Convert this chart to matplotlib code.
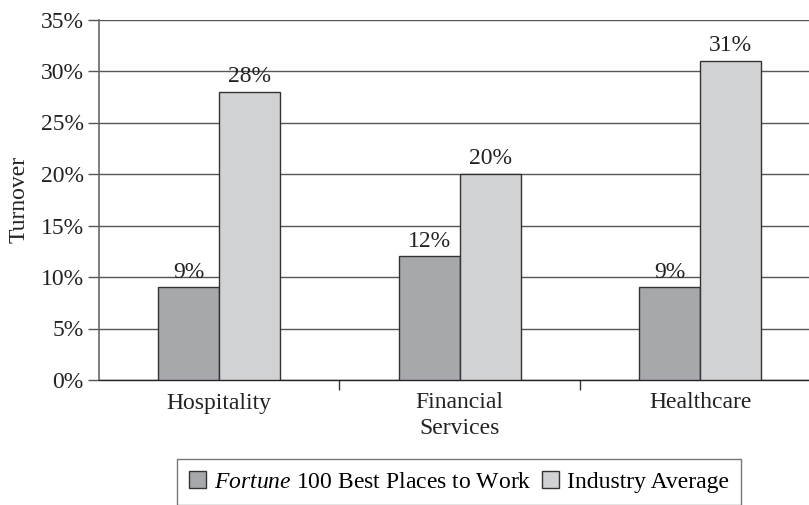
import numpy as np
import matplotlib
matplotlib.use("Agg")
import matplotlib.pyplot as plt
from matplotlib.ticker import FuncFormatter, FixedLocator

plt.rcParams["font.family"] = ["Liberation Serif", "DejaVu Serif"]
plt.rcParams["mathtext.fontset"] = "custom"
plt.rcParams["mathtext.rm"] = "Liberation Serif"
plt.rcParams["mathtext.it"] = "Liberation Serif:italic"

categories = ["Hospitality", "Financial\nServices", "Healthcare"]
fortune = [9, 12, 9]
industry = [28, 20, 31]
series_names = [r"$\mathit{Fortune}$ 100 Best Places to Work", "Industry Average"]

fs = 17
fig = plt.figure(figsize=(8.09, 5.05), dpi=100)
ax = fig.add_axes([99 / 809, 1 - 380 / 505, 1 - 99 / 809, (380 - 19.5) / 505])

x = np.arange(len(categories))
w = 0.254
b1 = ax.bar(x - w / 2, fortune, w, color="#a7a8ab", edgecolor="#333333", linewidth=1,
            label=series_names[0], zorder=3)
b2 = ax.bar(x + w / 2, industry, w, color="#d1d2d4", edgecolor="#333333", linewidth=1,
            label=series_names[1], zorder=3)

for bars, vals in [(b1, fortune), (b2, industry)]:
    for r, v in zip(bars, vals):
        ax.text(r.get_x() + r.get_width() / 2, v + 0.45, f"{v}%", ha="center", va="bottom",
                fontsize=fs, color="#222222")

ax.set_xlim(-0.5, 2.453)
ax.set_ylim(0, 35)
ax.set_yticks(range(0, 36, 5))
ax.yaxis.set_major_formatter(FuncFormatter(lambda v, p: f"{int(v)}%"))
ax.yaxis.grid(True, color="#555555", linewidth=1, zorder=0)
ax.set_axisbelow(True)

ax.set_xticks(x)
ax.set_xticklabels(categories, fontsize=fs, color="#222222", linespacing=1.25)
ax.xaxis.set_minor_locator(FixedLocator([0.5, 1.5]))
ax.tick_params(axis="x", which="major", length=0, pad=9)
ax.tick_params(axis="x", which="minor", length=7, width=1, color="#333333")
ax.tick_params(axis="y", length=8, width=1, color="#555555", labelsize=fs, labelcolor="#222222", pad=3)

ax.set_ylabel("Turnover", fontsize=fs, color="#222222")
ax.yaxis.set_label_coords(-69 / 710, 0.5)

for s in ["top", "right"]:
    ax.spines[s].set_visible(False)
ax.spines["left"].set_color("#666666")
ax.spines["left"].set_linewidth(1.2)
ax.spines["bottom"].set_color("#222222")
ax.spines["bottom"].set_linewidth(1)

leg = fig.legend(loc="center", bbox_to_anchor=(459 / 809, 1 - 482 / 505), ncol=2, fontsize=fs,
                 frameon=True, fancybox=False, edgecolor="#555555", handlelength=0.7,
                 handleheight=0.7, handletextpad=0.35, columnspacing=0.45, borderpad=0.5)
leg.get_frame().set_linewidth(1)

fig.savefig("out.png", dpi=100)
